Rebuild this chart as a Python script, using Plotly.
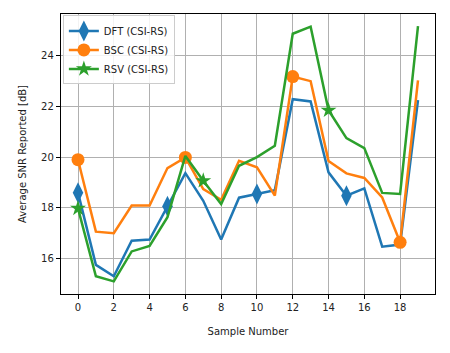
import plotly.graph_objects as go

samples = list(range(20))
dft = [18.6, 15.75, 15.3, 16.7, 16.75, 18.06, 19.37, 18.28, 16.75, 18.4,
       18.55, 18.7, 22.29, 22.2, 19.4, 18.48, 18.77, 16.47, 16.55, 22.25]
bsc = [19.9, 17.06, 17.0, 18.09, 18.09, 19.57, 19.99, 18.74, 18.32, 19.86,
       19.6, 18.48, 23.18, 23.0, 19.85, 19.36, 19.18, 18.41, 16.64, 23.03]
rsv = [17.98, 15.3, 15.1, 16.28, 16.5, 17.63, 20.05, 19.07, 18.15, 19.66,
       20.0, 20.45, 24.87, 25.15, 21.85, 20.75, 20.36, 18.59, 18.55, 25.17]
names = ["DFT (CSI-RS)", "BSC (CSI-RS)", "RSV (CSI-RS)"]
colors = ["#1f77b4", "#ff7f0e", "#2ca02c"]
symbols = ["diamond-tall", "circle", "star"]
mark_every = [5, 6, 7]
msizes = [15, 13, 12]
xticks = list(range(0, 19, 2))
yticks = [16, 18, 20, 22, 24]

fig = go.Figure()
for ys, nm, c, sym, me, ms in zip([dft, bsc, rsv], names, colors, symbols, mark_every, msizes):
    mcolors = [c if i % me == 0 else "rgba(0,0,0,0)" for i in range(len(ys))]
    fig.add_trace(go.Scatter(
        x=samples, y=ys, name=nm, mode="lines+markers",
        line=dict(color=c, width=2.5),
        marker=dict(symbol=sym, size=ms, color=mcolors, opacity=1, line=dict(width=0)),
    ))

tfont = dict(family="DejaVu Sans", size=10, color="#222")
axis_common = dict(
    showline=True, mirror=True, linecolor="black", linewidth=1.3,
    ticks="outside", ticklen=4, tickwidth=1.2, tickcolor="black",
    showgrid=True, gridcolor="#b0b0b0", gridwidth=1.3, zeroline=False,
    tickfont=tfont, automargin=False,
)
fig.update_xaxes(range=[-0.95, 19.95], tickvals=xticks,
                 title=dict(text="Sample Number", font=tfont, standoff=15),
                 **axis_common)
fig.update_yaxes(range=[14.6, 25.65], tickvals=yticks,
                 title=dict(text="Average SNR Reported [dB]", font=tfont, standoff=12),
                 **axis_common)
# page body adds an 8px margin, so the figure is shrunk and margins shifted
fig.update_layout(
    width=442, height=345,
    margin=dict(l=53, r=15, t=6, b=59),
    plot_bgcolor="white", paper_bgcolor="white",
    legend=dict(x=0.005, y=0.995, xanchor="left", yanchor="top",
                bgcolor="rgba(255,255,255,0.85)", bordercolor="#cccccc", borderwidth=1,
                font=tfont, itemwidth=30, tracegroupgap=0),
    showlegend=True,
)
fig.write_html("out.html")
